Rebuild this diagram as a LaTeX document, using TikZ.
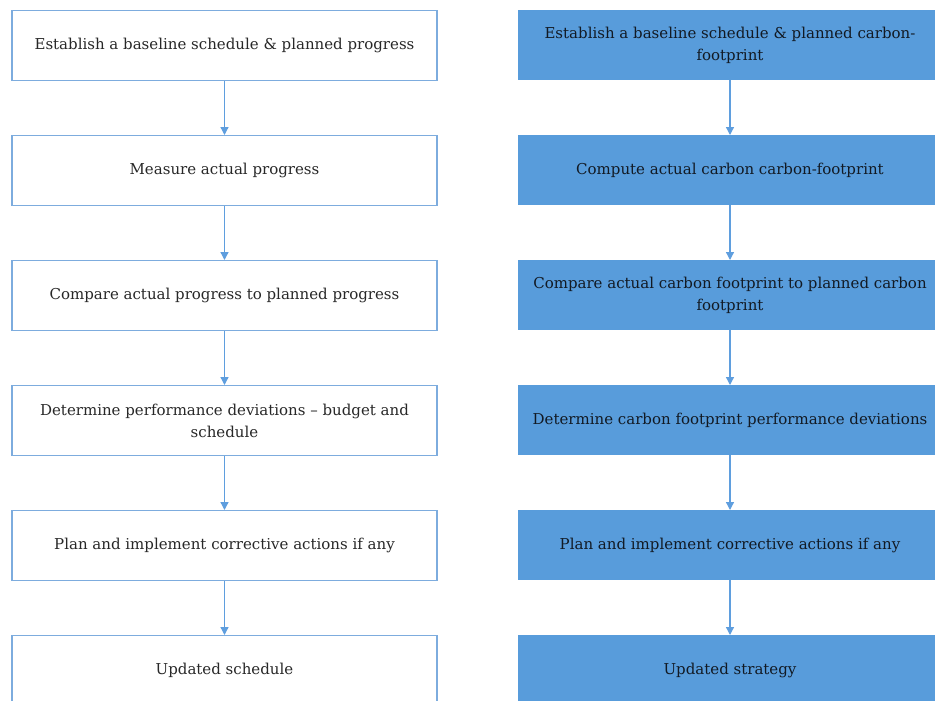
\documentclass[tikz,border=0pt]{standalone}
\usepackage{fontspec}
\setmainfont{DejaVu Serif}
\usetikzlibrary{arrows.meta}
\definecolor{boxline}{RGB}{125,172,222}
\definecolor{boxfill}{RGB}{88,156,219}
\definecolor{flowline}{RGB}{95,158,222}
\definecolor{textgray}{RGB}{40,40,40}
\definecolor{textdark}{RGB}{18,26,36}
\begin{document}
\begin{tikzpicture}[x=1pt,y=-1pt,
  stepbox/.style={minimum width=425pt, minimum height=70pt, anchor=north,
    align=center, inner sep=0pt, font=\fontsize{15}{22}\selectfont},
  plainbox/.style={stepbox, draw=boxline, line width=1.3pt, fill=white, text=textgray},
  bluebox/.style={stepbox, draw=none, fill=boxfill, text=textdark},
  flow/.style={draw=flowline, line width=1.3pt, -{Triangle[width=8pt,length=8pt]}}]
\useasboundingbox (0,0) rectangle (935,701);
\clip (0,0) rectangle (935,701);

% schedule control loop
\node[plainbox] (l1) at (224.5,10)  {Establish a baseline schedule \& planned progress};
\node[plainbox] (l2) at (224.5,135) {Measure actual progress};
\node[plainbox] (l3) at (224.5,260) {Compare actual progress to planned progress};
\node[plainbox] (l4) at (224.5,385) {Determine performance deviations – budget and\\schedule};
\node[plainbox] (l5) at (224.5,510) {Plan and implement corrective actions if any};
\node[plainbox] (l6) at (224.5,635) {Updated schedule};

% carbon footprint control loop
\node[bluebox] (r1) at (730,10)  {Establish a baseline schedule \& planned carbon-\\footprint};
\node[bluebox] (r2) at (730,135) {Compute actual carbon carbon-footprint};
\node[bluebox] (r3) at (730,260) {Compare actual carbon footprint to planned carbon\\footprint};
\node[bluebox] (r4) at (730,385) {Determine carbon footprint performance deviations};
\node[bluebox] (r5) at (730,510) {Plan and implement corrective actions if any};
\node[bluebox] (r6) at (730,635) {Updated strategy};

\foreach \a/\b in {l1/l2,l2/l3,l3/l4,l4/l5,l5/l6,r1/r2,r2/r3,r3/r4,r4/r5,r5/r6}
  \draw[flow] (\a.south) -- (\b.north);
\end{tikzpicture}
\end{document}
